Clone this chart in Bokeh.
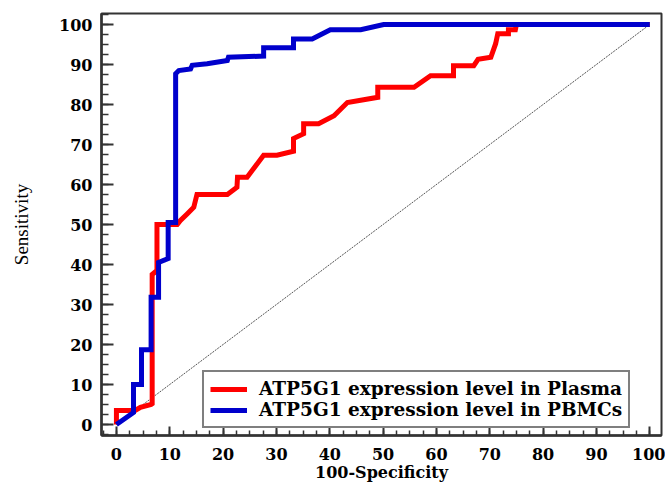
from bokeh.plotting import figure
from bokeh.models import SingleIntervalTicker, Range1d, Legend, LegendItem
from bokeh.embed import file_html
from bokeh.resources import INLINE

# ROC data (100-Specificity, Sensitivity)
plasma_x = [0, 0, 3.5, 4.5, 6.5, 6.7, 6.7, 7.6, 7.6, 10.1, 11.4, 12.0, 13.3, 14.5, 15.1, 20.8,
            22.6, 22.7, 24.5, 27.6, 30.1, 33.2, 33.2, 35.1, 35.1, 37.9, 40.8, 43.3, 49.0, 49.0,
            55.8, 58.9, 63.2, 63.2, 67.0, 67.8, 70.2, 71.1, 71.5, 73.5, 73.5, 74.8, 75.0, 100]
plasma_y = [0, 3.5, 3.5, 4.3, 5.0, 5.2, 37.5, 38.5, 50.0, 50.0, 50.0, 51.0, 52.7, 54.3, 57.5, 57.5,
            59.3, 61.8, 61.8, 67.3, 67.3, 68.3, 71.5, 72.7, 75.2, 75.2, 77.2, 80.5, 81.8, 84.3,
            84.3, 87.2, 87.2, 89.7, 89.7, 91.3, 91.8, 95.2, 97.7, 97.7, 98.7, 98.7, 100, 100]

pbmc_x = [0, 3.2, 3.2, 4.7, 4.7, 6.5, 6.5, 7.9, 7.9, 9.7, 9.7, 11.1, 11.1, 11.7, 13.9, 14.2,
          17.0, 20.8, 21.0, 27.6, 27.6, 33.2, 33.2, 36.7, 40.1, 45.8, 50.1, 100]
pbmc_y = [0, 3.0, 10.0, 10.0, 18.7, 18.7, 31.8, 31.8, 40.5, 41.5, 50.5, 50.5, 87.7, 88.5, 88.9, 89.8,
          90.2, 91.0, 91.8, 92.1, 94.2, 94.2, 96.4, 96.4, 98.7, 98.7, 100, 100]

ref_x = [0, 100]
ref_y = [0, 100]

labels = ["ATP5G1 expression level in Plasma", "ATP5G1 expression level in PBMCs"]
x_title = "100-Specificity"
y_title = "Sensitivity"

p = figure(width=665, height=485, output_backend="svg", toolbar_location=None,
           x_range=Range1d(-2.8, 102.2), y_range=Range1d(-2.75, 102.75),
           min_border_left=101, min_border_right=4, min_border_top=13, min_border_bottom=50)

p.xgrid.visible = False
p.ygrid.visible = False
p.outline_line_color = "#333333"
p.outline_line_width = 2
p.background_fill_color = "white"

p.line(ref_x, ref_y, line_color="#555555", line_width=1, line_dash="2 1")
r_pl = p.line(plasma_x, plasma_y, line_color="#ff0000", line_width=5, line_join="miter")
r_pb = p.line(pbmc_x, pbmc_y, line_color="#0000cc", line_width=5, line_join="miter")

for ax in (p.xaxis[0], p.yaxis[0]):
    ax.ticker = SingleIntervalTicker(interval=10, num_minor_ticks=4)
    ax.axis_line_color = "#333333"
    ax.axis_line_width = 2.5
    ax.major_tick_line_color = "#333333"
    ax.minor_tick_line_color = "#333333"
    ax.major_tick_line_width = 2
    ax.minor_tick_line_width = 1.5
    ax.major_tick_out = 0
    ax.minor_tick_out = 0
    ax.major_label_text_font = "DejaVu Serif"
    ax.major_label_text_font_style = "bold"
    ax.major_label_text_font_size = "16px"
    ax.major_label_text_color = "black"
    ax.axis_label_text_color = "black"

p.yaxis[0].major_tick_in = 12
p.yaxis[0].minor_tick_in = 7
p.yaxis[0].major_label_standoff = 9
p.yaxis[0].axis_label = y_title
p.yaxis[0].axis_label_text_font = "Liberation Serif"
p.yaxis[0].axis_label_text_font_style = "normal"
p.yaxis[0].axis_label_text_font_size = "19px"
p.yaxis[0].axis_label_standoff = 24

p.xaxis[0].major_tick_in = 9
p.xaxis[0].minor_tick_in = 5
p.xaxis[0].major_label_standoff = 12
p.xaxis[0].axis_label = x_title
p.xaxis[0].axis_label_text_font = "DejaVu Serif"
p.xaxis[0].axis_label_text_font_style = "bold"
p.xaxis[0].axis_label_text_font_size = "16px"
p.xaxis[0].axis_label_standoff = 0

legend = Legend(items=[LegendItem(label=labels[0], renderers=[r_pl]),
                       LegendItem(label=labels[1], renderers=[r_pb])],
                location=(101, 7))
legend.label_text_font = "DejaVu Serif"
legend.label_text_font_style = "bold"
legend.label_text_font_size = "18.5px"
legend.label_text_color = "black"
legend.border_line_color = "black"
legend.border_line_width = 2.5
legend.padding = 6
legend.spacing = 0
legend.glyph_width = 37
legend.glyph_height = 20
legend.label_height = 20
legend.label_standoff = 12
legend.margin = 0
legend.background_fill_alpha = 1
p.add_layout(legend, "center")

open("out.html", "w").write(file_html(p, INLINE))
